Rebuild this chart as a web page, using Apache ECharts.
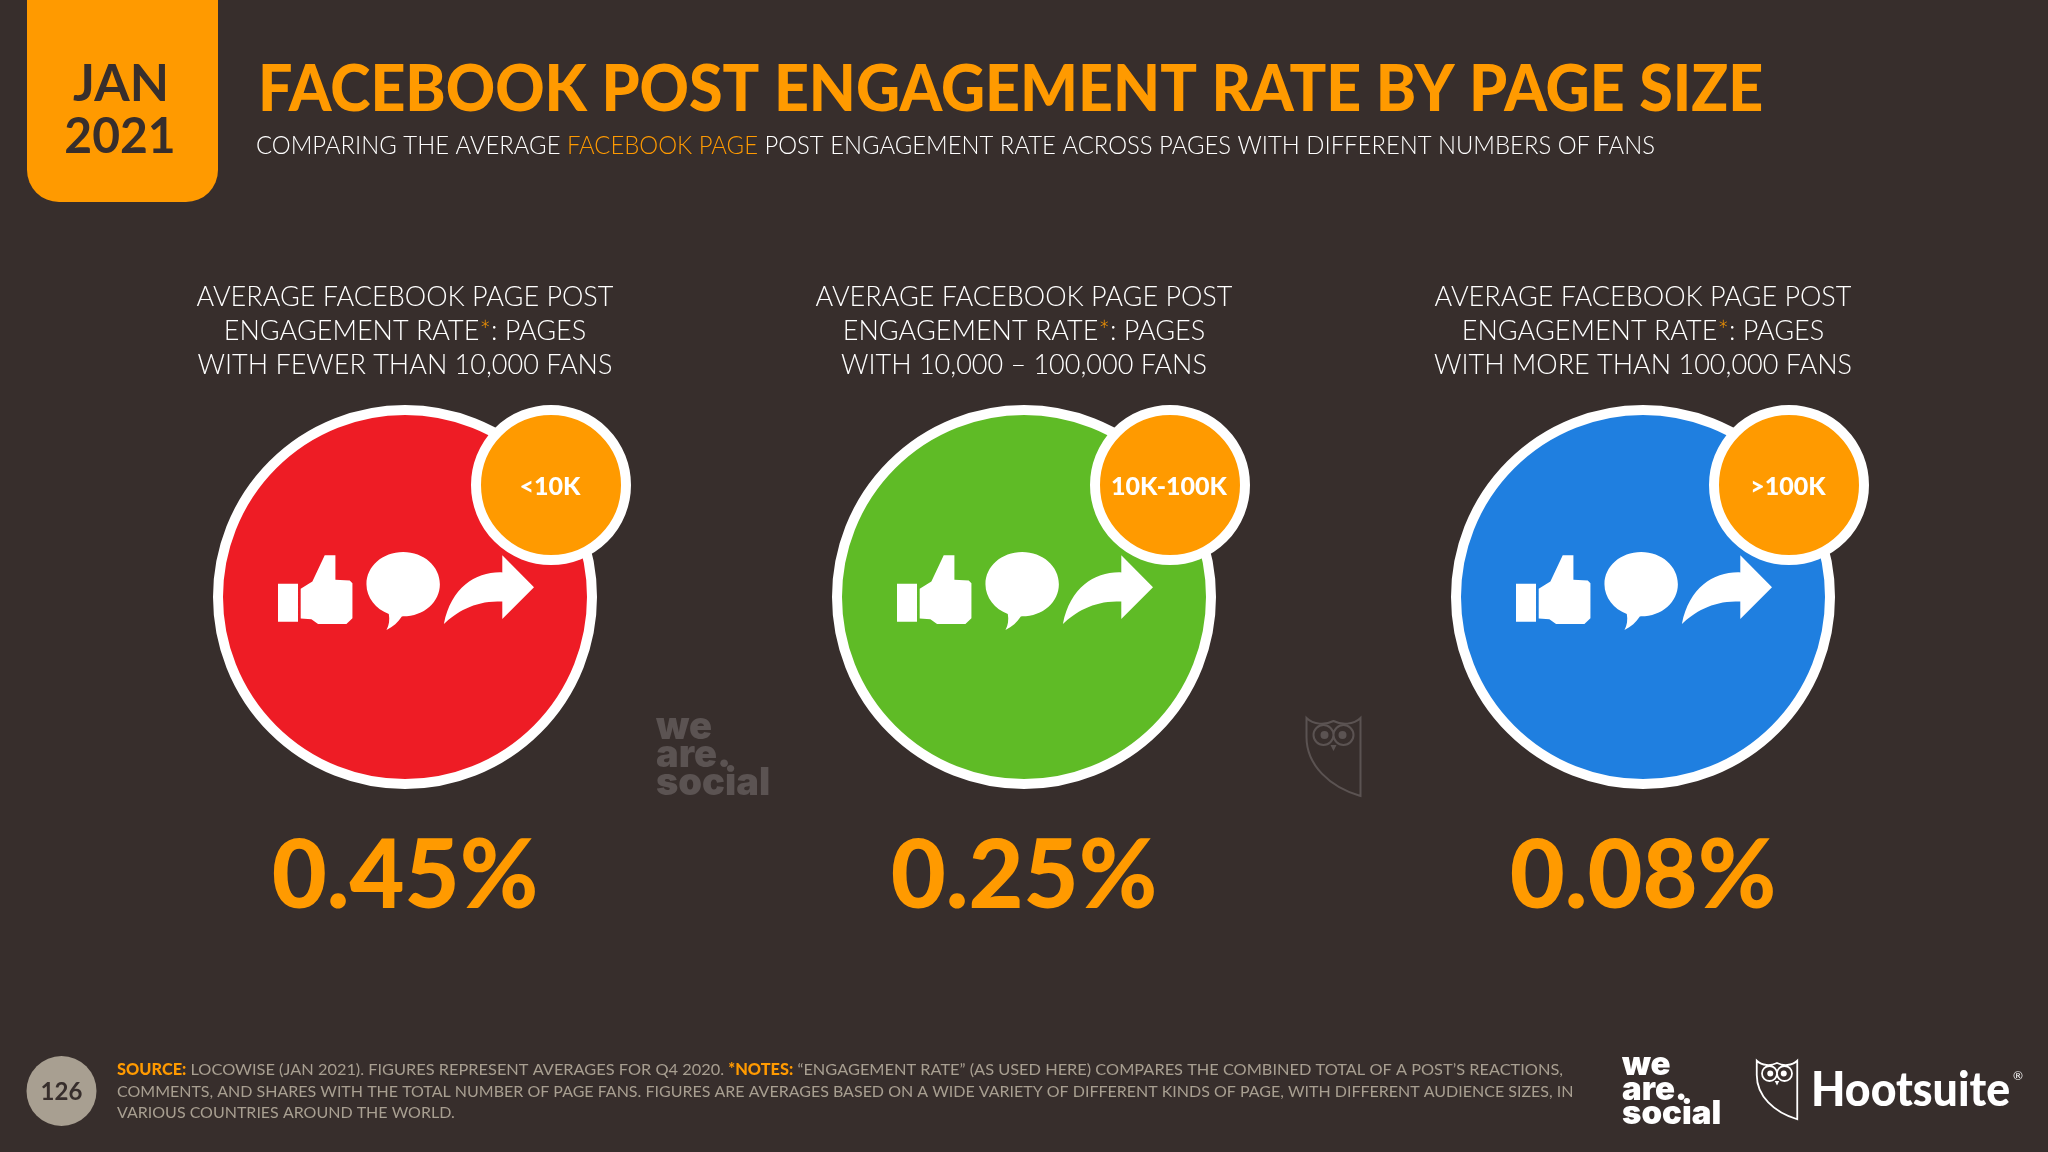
<!DOCTYPE html>
<html>
<head>
<meta charset="utf-8">
<style>
  html, body { margin: 0; padding: 0; background: #372e2c; }
  #chart { width: 2048px; height: 1152px; }
</style>
<script src="https://cdn.jsdelivr.net/npm/echarts@6/dist/echarts.min.js"></script>
</head>
<body>
<div id="chart"></div>
<script>
// chart data
const categories = ['<10K', '10K-100K', '>100K'];
const rates = [0.45, 0.25, 0.08];
const headings = [
  'AVERAGE FACEBOOK PAGE POST\nENGAGEMENT RATE{o|*}: PAGES\nWITH FEWER THAN 10,000 FANS',
  'AVERAGE FACEBOOK PAGE POST\nENGAGEMENT RATE{o|*}: PAGES\nWITH 10,000 – 100,000 FANS',
  'AVERAGE FACEBOOK PAGE POST\nENGAGEMENT RATE{o|*}: PAGES\nWITH MORE THAN 100,000 FANS'
];
const title = 'FACEBOOK POST ENGAGEMENT RATE BY PAGE SIZE';
const subtitle = 'COMPARING THE AVERAGE {o|FACEBOOK PAGE} POST ENGAGEMENT RATE ACROSS PAGES WITH DIFFERENT NUMBERS OF FANS';
const footnote = [
  '{b|SOURCE:} LOCOWISE (JAN 2021). FIGURES REPRESENT AVERAGES FOR Q4 2020. {b|*NOTES:} “ENGAGEMENT RATE” (AS USED HERE) COMPARES THE COMBINED TOTAL OF A POST’S REACTIONS,',
  'COMMENTS, AND SHARES WITH THE TOTAL NUMBER OF PAGE FANS. FIGURES ARE AVERAGES BASED ON A WIDE VARIETY OF DIFFERENT KINDS OF PAGE, WITH DIFFERENT AUDIENCE SIZES, IN',
  'VARIOUS COUNTRIES AROUND THE WORLD.'
];

const circleColors = ['#ee1c25', '#5fbb26', '#1f7fe0'];
const BG = '#372e2c';
const ORANGE = '#ff9a00';
const FONT = 'Lato';

// like + comment + share icons, one path
const ICONS = 'path://M333 597L368 575L405 497L437 497L437 570L480 572L488 580L488 685L470 702L385 702L365 688L333 686Z' +
  'M265 582L325 582L325 695L265 695Z' +
  'M640 487C702 487 750 530 750 583C750 636 702 679 640 679L636 680C625 697 610 711 590 720C598 705 600 690 597 672C558 657 530 623 530 583C530 530 578 487 640 487Z' +
  'M1032 592L937 497L937 548C860 545 785 590 762 702C800 665 860 630 937 635L937 687Z';

const OWL_BODY = 'M1 1C8 8 20 8 28 4C36 8 48 8 55 1L55 79C24 70 1 48 1 20Z' +
  'M8 18A10 10 0 1 0 28 18A10 10 0 1 0 8 18ZM28 18A10 10 0 1 0 48 18A10 10 0 1 0 28 18Z';
const OWL_EYES = 'M15 18A4 4 0 1 0 23 18A4 4 0 1 0 15 18ZM33 18A4 4 0 1 0 41 18A4 4 0 1 0 33 18ZM25 28L31 28L28 34Z';

// graphic has no plain path type, so the owl goes in as registered shapes
echarts.graphic.registerShape('owlBody', echarts.graphic.extendPath(OWL_BODY));
echarts.graphic.registerShape('owlEyes', echarts.graphic.extendPath(OWL_EYES));

function owl(x, y, s, color, lw) {
  return [
    { type: 'owlBody', x: x, y: y, scaleX: s, scaleY: s,
      style: { fill: 'none', stroke: color, lineWidth: lw } },
    { type: 'owlEyes', x: x, y: y, scaleX: s, scaleY: s,
      style: { fill: color } }
  ];
}

function txt(x, y, text, font, fill, opts) {
  return Object.assign({
    type: 'text', x: x, y: y,
    style: Object.assign({ text: text, font: font, fill: fill, verticalAlign: 'middle', align: 'left' }, (opts && opts.style) || {})
  }, opts && opts.el);
}

let myChart = echarts.init(document.getElementById('chart'));

let baseData = categories.map(function (c, i) { return { value: [c, 0], rate: rates[i] }; });

let footRich = { rich: { b: { fill: ORANGE, font: '900 16px ' + FONT } } };

let option = {
  animation: false,
  backgroundColor: BG,
  grid: { left: 95.5, width: 1857, top: 400, height: 394 },
  xAxis: {
    type: 'category',
    position: 'top',
    data: categories,
    axisLine: { show: false },
    axisTick: { show: false },
    axisLabel: {
      interval: 0,
      margin: 18,
      color: '#fff',
      fontFamily: FONT,
      fontWeight: 300,
      fontSize: 27,
      lineHeight: 34,
      align: 'center',
      formatter: function (v) { return headings[categories.indexOf(v)]; },
      rich: { o: { color: ORANGE, fontFamily: FONT, fontWeight: 300, fontSize: 27, lineHeight: 34 } }
    }
  },
  yAxis: { type: 'value', min: -1, max: 1, show: false },
  series: [
    {
      // main circles, carrying the rate label underneath
      type: 'scatter',
      z: 2,
      silent: true,
      symbol: 'circle',
      symbolSize: 374,
      data: baseData,
      itemStyle: {
        opacity: 1,
        borderColor: '#fff',
        borderWidth: 10,
        color: function (p) { return circleColors[p.dataIndex]; }
      },
      label: {
        show: true,
        position: 'inside',
        offset: [0, 280],
        color: ORANGE,
        fontFamily: FONT,
        fontWeight: 900,
        fontSize: 95,
        formatter: function (p) { return p.data.rate.toFixed(2) + '%'; }
      }
    },
    {
      type: 'scatter',
      z: 3,
      silent: true,
      symbol: ICONS,
      symbolSize: [256, 78],
      symbolOffset: [1, -6],
      data: baseData,
      itemStyle: { color: '#fff', opacity: 1 }
    },
    {
      // fan-count badges
      type: 'scatter',
      z: 4,
      silent: true,
      symbol: 'circle',
      symbolSize: 150,
      symbolOffset: [146, -112],
      data: baseData,
      itemStyle: { color: ORANGE, borderColor: '#fff', borderWidth: 10, opacity: 1 },
      label: {
        show: true,
        position: 'inside',
        offset: [-1, 2],
        color: '#fff',
        fontFamily: FONT,
        fontWeight: 900,
        fontSize: 25,
        formatter: function (p) { return p.value[0]; }
      }
    }
  ],
  graphic: {
    elements: [
      { type: 'rect', shape: { x: 27, y: -40, width: 191, height: 242, r: 32 }, style: { fill: ORANGE } },
      txt(121, 85, 'JAN', '700 51px ' + FONT, BG, { style: { align: 'center' } }),
      txt(120, 137, '2021', '700 50px ' + FONT, BG, { style: { align: 'center' }, el: { scaleX: 0.96 } }),
      txt(258, 90, title, '900 64px ' + FONT, ORANGE, { el: { scaleX: 0.952 } }),
      txt(256, 146, subtitle, '300 25px ' + FONT, '#fff', {
        style: { rich: { o: { fill: ORANGE, font: '300 25px ' + FONT } } },
        el: { scaleX: 0.954 }
      }),
      { type: 'circle', shape: { cx: 61.5, cy: 1091, r: 35 }, style: { fill: '#a89f91' } },
      txt(61.5, 1092, '126', '700 24px ' + FONT, BG, { style: { align: 'center' } }),
      txt(117, 1070, footnote[0], '400 16px ' + FONT, '#a89f91', { style: footRich, el: { scaleX: 1.022 } }),
      txt(117, 1092, footnote[1], '400 16px ' + FONT, '#a89f91'),
      txt(117, 1113, footnote[2], '400 16px ' + FONT, '#a89f91'),
      // faint watermarks between the circles
      txt(656, 756, 'we\nare.\nsocial', '900 38px Inter', '#5b5352', { style: { lineHeight: 28 } }),
      // footer logos
      txt(1622, 1090, 'we\nare.\nsocial', '900 33px Inter', '#fff', { style: { lineHeight: 24.5 } }),
      txt(1811, 1091, 'Hootsuite', '900 47px ' + FONT, '#fff', { el: { scaleX: 0.95 } }),
      txt(2013, 1076, '®', '400 12px ' + FONT, '#fff')
    ].concat(owl(1305.5, 717, 1, '#5b5352', 2), owl(1756, 1060, 0.75, '#fff', 2.4))
  }
};

myChart.setOption(option);
</script>
</body>
</html>
